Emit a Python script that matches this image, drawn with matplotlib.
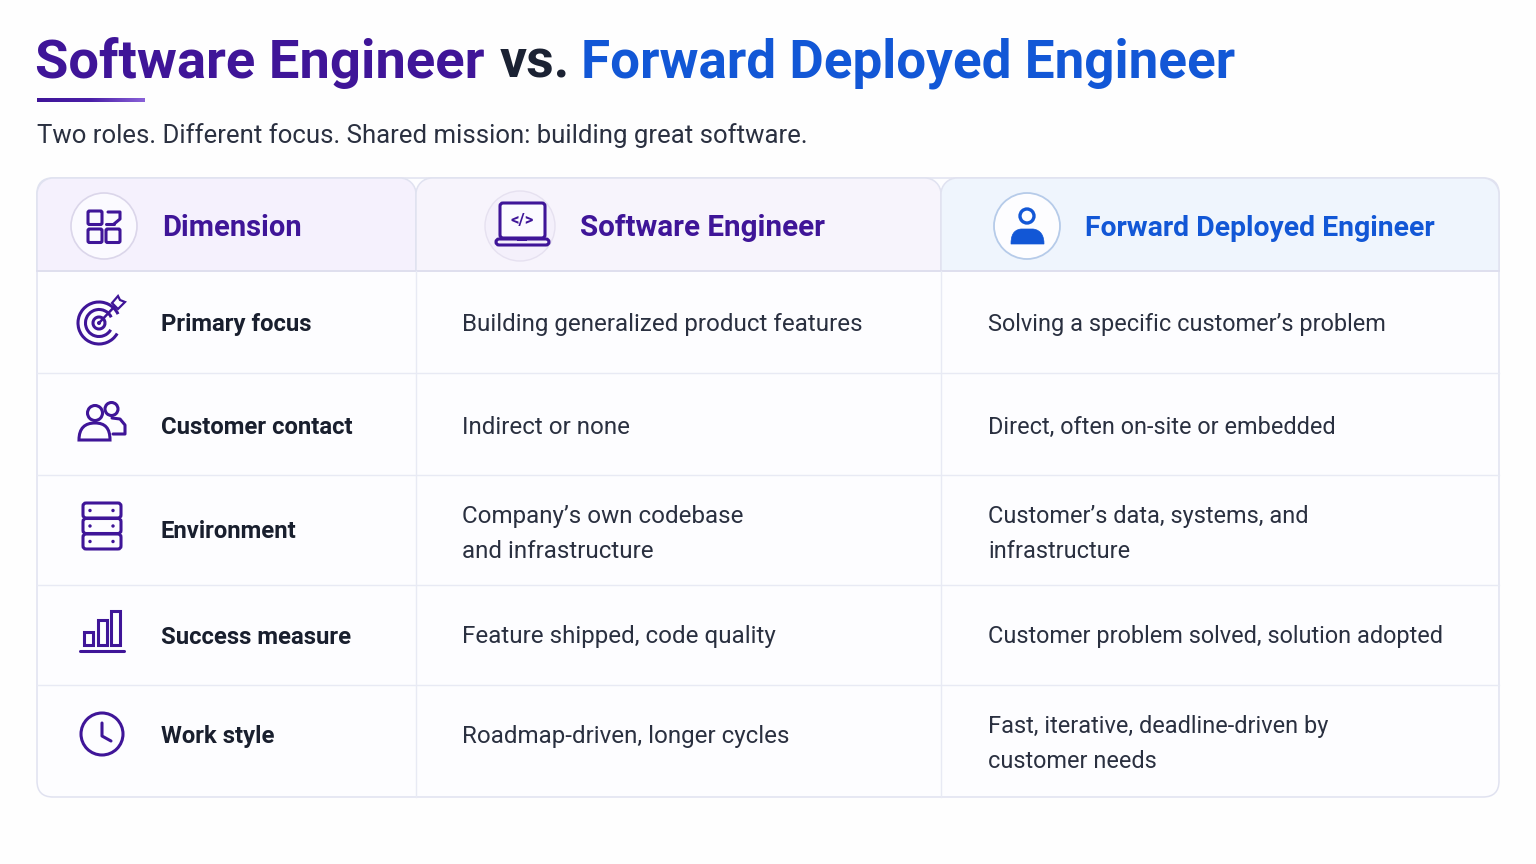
import matplotlib
matplotlib.use("Agg")
import matplotlib.pyplot as plt
import numpy as np
from matplotlib.patches import FancyBboxPatch, Circle, Rectangle, Arc, Polygon, PathPatch
from matplotlib.path import Path

plt.rcParams['font.family'] = ['Roboto', 'DejaVu Sans']

TITLE_PARTS = ["Software Engineer", "vs.", "Forward Deployed Engineer"]
SUBTITLE = "Two roles. Different focus. Shared mission: building great software."
HEADERS = ["Dimension", "Software Engineer", "Forward Deployed Engineer"]
DIMENSIONS = ["Primary focus", "Customer contact", "Environment", "Success measure", "Work style"]
SWE_VALUES = [["Building generalized product features"], ["Indirect or none"],
              ["Company\u2019s own codebase", "and infrastructure"],
              ["Feature shipped, code quality"], ["Roadmap-driven, longer cycles"]]
FDE_VALUES = [["Solving a specific customer\u2019s problem"], ["Direct, often on-site or embedded"],
              ["Customer\u2019s data, systems, and", "infrastructure"],
              ["Customer problem solved, solution adopted"],
              ["Fast, iterative, deadline-driven by", "customer needs"]]

PURPLE = "#3f1598"; BLUE = "#1257d6"; DARK = "#1b2233"; TEXT = "#2a3040"
GRID = "#e8eaf4"; BORDER = "#e0e2f0"

fig = plt.figure(figsize=(15.36, 8.64), dpi=100, facecolor="#fefefe")
ax = fig.add_axes([0, 0, 1, 1])
ax.set_xlim(0, 1536); ax.set_ylim(864, 0); ax.axis("off")

X = [37, 416, 941, 1499]
Y = [178, 271, 373, 475, 585, 685, 797]
RX = 16

def rr(x0, y0, x1, y1, r=RX, **kw):
    p = FancyBboxPatch((x0 + r, y0 + r), x1 - x0 - 2 * r, y1 - y0 - 2 * r,
                       boxstyle=f"round,pad={r},rounding_size={r}", mutation_aspect=1, **kw)
    ax.add_patch(p)
    return p

def top_round(x0, y0, x1, y1, r, fc):
    k = 0.55 * r
    v = [(x0, y1), (x0, y0 + r), (x0, y0 + r - k), (x0 + r - k, y0), (x0 + r, y0), (x1 - r, y0),
         (x1 - r + k, y0), (x1, y0 + r - k), (x1, y0 + r), (x1, y1), (x0, y1)]
    c = [Path.MOVETO, Path.LINETO, Path.CURVE4, Path.CURVE4, Path.CURVE4, Path.LINETO,
         Path.CURVE4, Path.CURVE4, Path.CURVE4, Path.LINETO, Path.CLOSEPOLY]
    ax.add_patch(PathPatch(Path(v, c), fc=fc, ec=BORDER, lw=1.1, zorder=2))

# table body
rr(X[0], Y[0], X[3], Y[6], fc="#fdfdff", ec=BORDER, lw=1.1, zorder=1)
top_round(X[0], Y[0], X[1], Y[1], RX, "#f5f1fd")
top_round(X[1], Y[0], X[2], Y[1], RX, "#f7f4fc")
top_round(X[2], Y[0], X[3], Y[1], RX, "#eff5fd")
ax.plot([X[0], X[3]], [Y[1], Y[1]], color="#dedeee", lw=1.2, zorder=3)
for y in Y[2:6]:
    ax.plot([X[0], X[3]], [y, y], color=GRID, lw=1.0, zorder=3)
for x in X[1:3]:
    ax.plot([x, x], [Y[1], Y[6] - 0.5], color=GRID, lw=1.0, zorder=3)

# title
t_sizes = [39.2, 38.5, 38.2]
t_colors = [PURPLE, DARK, BLUE]
t_x = [35, 500, 581]
for s, c, x, fs in zip(TITLE_PARTS, t_colors, t_x, t_sizes):
    ax.text(x, 57.5, s, color=c, fontsize=fs, fontweight="bold", va="center_baseline", ha="left", zorder=5)

# accent rule with gradient
grad = np.linspace(0, 1, 256).reshape(1, -1)
cm = matplotlib.colors.LinearSegmentedColormap.from_list("a", [PURPLE, "#4a1fa8", "#8a62d8"])
ax.imshow(grad, extent=[37, 145, 102, 98.5], cmap=cm, aspect="auto", zorder=5)
ax.set_xlim(0, 1536); ax.set_ylim(864, 0)

ax.text(37, 133.5, SUBTITLE, color=TEXT, fontsize=18.5, va="center_baseline", zorder=5)

# headers
hdr_x = [162, 580, 1085]
hdr_c = [PURPLE, PURPLE, BLUE]
hdr_s = [21, 21.3, 20.4]
for s, x, c, fs in zip(HEADERS, hdr_x, hdr_c, hdr_s):
    ax.text(x, 225, s, color=c, fontsize=fs, fontweight="bold",
            va="center_baseline", zorder=5)

# rows
row_y = [323, 425, 529, 635, 735]
two_line = {2: (515, 550), 4: (724, 760)}
for i, d in enumerate(DIMENSIONS):
    ax.text(161, row_y[i] - 0.5, d, color="#191f2e", fontsize=17.2, fontweight="bold",
            va="center_baseline", zorder=5)
    for col_x, vals, fs in ((462, SWE_VALUES, 17.4), (988, FDE_VALUES, 16.9)):
        lines = vals[i]
        ys = [row_y[i]] if len(lines) == 1 else two_line[i]
        for l, y in zip(lines, ys):
            ax.text(col_x, y - 0.5, l, color=TEXT, fontsize=fs, va="center_baseline", zorder=5)

# header icons
LW = 2.2
Z = 6
def circ(cx, cy, r, **kw):
    ax.add_patch(Circle((cx, cy), r, zorder=kw.pop("zorder", Z), **kw))
def line(xs, ys, c=PURPLE, lw=LW):
    ax.plot(xs, ys, color=c, lw=lw, solid_capstyle="round", solid_joinstyle="round", zorder=Z)

circ(104, 226, 33, fc="#fbfaff", ec="#dbd6ea", lw=1.2, zorder=4)
for (x, y) in [(88, 211), (88, 229), (106, 229)]:
    rr(x, y, x + 14, y + 13.5, r=1.5, fc="none", ec=PURPLE, lw=LW, zorder=Z)
line([108, 120, 120, 114], [212, 212, 219, 224])
line([106, 114], [224, 224])

circ(520, 226, 35, fc="#f4f0fb", ec="#e6e1f0", lw=1.0, zorder=4)
rr(500, 203, 545, 238, r=3, fc="#fbfaff", ec=PURPLE, lw=LW, zorder=Z)
rr(496, 239, 549, 245, r=3, fc="none", ec=PURPLE, lw=LW, zorder=Z)
ax.add_patch(Rectangle((517, 238), 10, 2.5, fc=PURPLE, ec="none", zorder=Z))
ax.text(522, 220, "</>", color=PURPLE, fontsize=12, fontweight="bold", ha="center", va="center", zorder=Z)

circ(1027, 226, 33, fc="#fdfdff", ec="#b6cbe9", lw=1.3, zorder=4)
circ(1027, 216, 7, fc="none", ec=BLUE, lw=2.4)
v = [(1011, 244), (1011, 236), (1013, 230), (1021, 229), (1033, 229), (1041, 230), (1044, 236), (1044, 244), (1011, 244)]
c = [Path.MOVETO, Path.CURVE4, Path.CURVE4, Path.CURVE4, Path.LINETO, Path.CURVE4, Path.CURVE4, Path.CURVE4, Path.CLOSEPOLY]
ax.add_patch(PathPatch(Path(v, c), fc=BLUE, ec=BLUE, lw=0.5, zorder=Z))

# target icon
for r in (21, 13.5, 6):
    ax.add_patch(Arc((99, 323), 2 * r, 2 * r, theta1=-330 if r > 6 else 0, theta2=-25 if r > 6 else 360,
                     color=PURPLE, lw=LW, zorder=Z))
circ(99, 323, 2, fc=PURPLE, ec="none")
line([99, 116], [323, 305], lw=1.8)
ax.add_patch(Polygon([(112, 303), (118, 296), (120, 300), (125, 302), (118, 309)], closed=True,
                     fc="#fdfdff", ec=PURPLE, lw=1.6, zorder=Z))

# people icon
circ(95, 413, 7.5, fc="#fdfdff", ec=PURPLE, lw=LW)
circ(111.5, 409, 6.5, fc="#fdfdff", ec=PURPLE, lw=LW)
line([112, 120, 125, 125, 113], [418, 419, 425, 434, 434])
v = [(79, 440), (79, 428), (85, 423), (95, 423), (105, 423), (110, 428), (110, 440), (79, 440)]
c = [Path.MOVETO, Path.CURVE4, Path.CURVE4, Path.CURVE4, Path.CURVE4, Path.CURVE4, Path.CURVE4, Path.CLOSEPOLY]
ax.add_patch(PathPatch(Path(v, c), fc="#fdfdff", ec=PURPLE, lw=LW, zorder=Z))

# server icon
for y in (503, 518.5, 534):
    rr(83, y, 121, y + 15, r=3, fc="none", ec=PURPLE, lw=LW, zorder=Z)
    circ(90, y + 7.5, 1.7, fc=PURPLE, ec="none")
    circ(113, y + 7.5, 1.7, fc=PURPLE, ec="none")

# bars icon
for x, top in ((84, 632), (98, 620), (111, 611)):
    ax.add_patch(Rectangle((x, top), 8.5, 645 - top, fc="none", ec=PURPLE, lw=LW, zorder=Z))
line([80, 124], [650.5, 650.5])

# clock icon
circ(102, 734, 21, fc="none", ec=PURPLE, lw=LW)
line([102, 102, 111], [723, 736, 741])

fig.savefig("out.png", dpi=100, facecolor=fig.get_facecolor())
